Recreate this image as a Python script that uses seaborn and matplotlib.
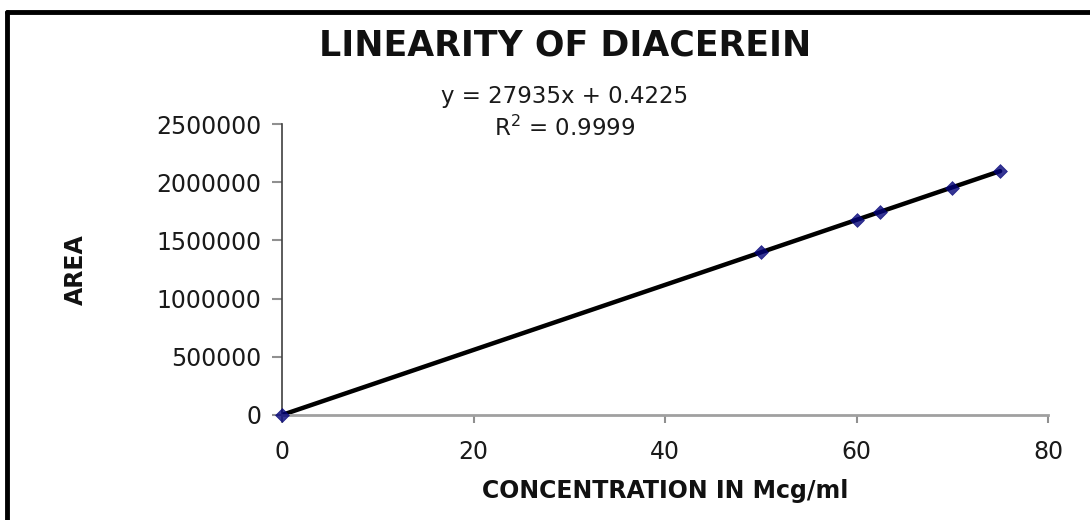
import matplotlib
matplotlib.use("Agg")
import matplotlib.pyplot as plt
import seaborn as sns
import pandas as pd
from matplotlib.lines import Line2D

# Data
concentration = [0, 50, 60, 62.5, 70, 75]
area = [0, 1398000, 1675000, 1748000, 1954000, 2096000]
x_ticks = [0, 20, 40, 60, 80]
y_ticks = [0, 500000, 1000000, 1500000, 2000000, 2500000]
title = "LINEARITY OF DIACEREIN"
equation = "y = 27935x + 0.4225"
r2_text = "R$^2$ = 0.9999"
x_label = "CONCENTRATION IN Mcg/ml"
y_label = "AREA"

df = pd.DataFrame({"conc": concentration, "area": area})

sns.set_theme(style="white")
plt.rcParams["font.family"] = ["DejaVu Sans"]

fig = plt.figure(figsize=(10.9, 5.2), dpi=100)
ax = fig.add_axes([282 / 1090, 1 - 415 / 520, (1048 - 282) / 1090, (415 - 124) / 520])

sns.regplot(data=df, x="conc", y="area", ax=ax, ci=None,
            marker="D",
            scatter_kws=dict(color="#04047a", s=50, edgecolor="#04047a", linewidths=0.5, zorder=3, clip_on=False),
            line_kws=dict(color="black", lw=3.2, zorder=2))

ax.set_xlim(0, 80)
ax.set_ylim(0, 2500000)
ax.set_xticks(x_ticks)
ax.set_yticks(y_ticks)
ax.set_xticklabels([str(v) for v in x_ticks])
ax.set_yticklabels([str(v) for v in y_ticks])

for s in ["top", "right"]:
    ax.spines[s].set_visible(False)
ax.spines["left"].set_color("#404040")
ax.spines["left"].set_linewidth(1.2)
ax.spines["bottom"].set_color("#a0a0a0")
ax.spines["bottom"].set_linewidth(2.0)

ax.tick_params(axis="y", direction="out", length=7, width=1.5, color="#909090",
               labelsize=17, labelcolor="#1a1a1a", pad=8, left=True)
ax.tick_params(axis="x", direction="out", length=6, width=1.5, color="#909090",
               labelsize=17, labelcolor="#1a1a1a", pad=12, bottom=True)

ax.set_xlabel(x_label, fontsize=17, fontweight="bold", color="#111111", labelpad=11)
ax.set_ylabel(y_label, fontsize=17, fontweight="bold", color="#111111")
ax.yaxis.set_label_coords((88 - 282) / 766, 0.5)
ax.set_facecolor("white")
ax.grid(False)

fig.text(565 / 1090, 1 - 45 / 520, title, ha="center", va="center",
         fontsize=25, fontweight="bold", color="#111111")
fig.text(565 / 1090, 1 - 97 / 520, equation, ha="center", va="center",
         fontsize=16.5, color="#1a1a1a")
fig.text(565 / 1090, 1 - 128 / 520, r2_text, ha="center", va="center",
         fontsize=16.5, color="#1a1a1a")

# Black frame (top and left visible)
fig.add_artist(Line2D([7 / 1090, 1.0], [1 - 12 / 520, 1 - 12 / 520],
                      transform=fig.transFigure, color="black", lw=3.5))
fig.add_artist(Line2D([7 / 1090, 7 / 1090], [0, 1 - 12 / 520],
                      transform=fig.transFigure, color="black", lw=3.5))

fig.savefig("out.png", dpi=100, facecolor="white")
